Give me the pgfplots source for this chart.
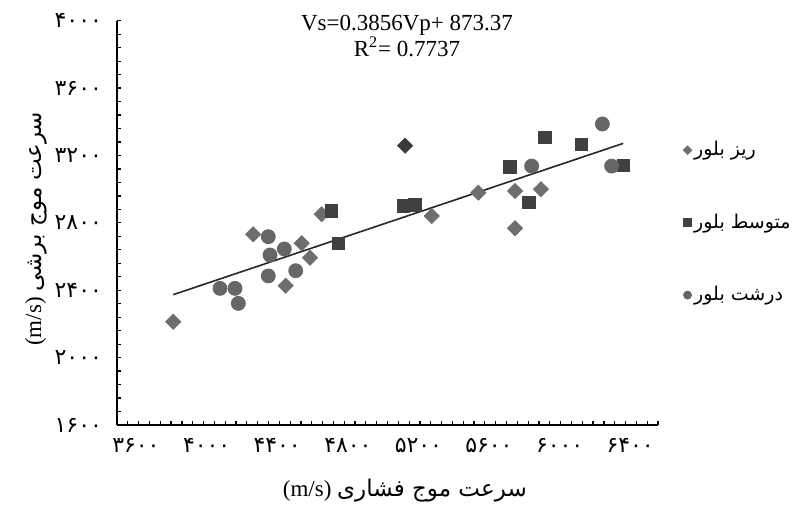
\documentclass[border=0pt]{standalone}
\usepackage{pgfplots}
\pgfplotsset{compat=1.18}
\usepackage{fontspec}
\setmainfont{Liberation Serif}
\newfontfamily\pfont[Script=Arabic]{DejaVu Sans}
\TeXXeTstate=1
\definecolor{cdia}{HTML}{6E6E6E}
\definecolor{cdiadark}{HTML}{3A3A3A}
\definecolor{csq}{HTML}{404040}
\definecolor{ccir}{HTML}{666666}
\begin{document}
\begin{tikzpicture}
\useasboundingbox (0,0) rectangle (399pt,-252pt);
\begin{axis}[
  at={(58.5pt,-10.35pt)}, anchor=north west,
  scale only axis, width=270.5pt, height=202.15pt,
  xmin=3600, xmax=6400, ymin=1600, ymax=4000,
  axis lines=left, axis line style={black, line width=0.9pt, -},
  tick align=inside,
  major tick length=2pt, minor tick length=2pt,
  tick style={black, line width=0.6pt},
  xtick={3698,4064,4429,4795,5160,5525,5891,6256},
  xticklabels={۳۶۰۰,۴۰۰۰,۴۴۰۰,۴۸۰۰,۵۲۰۰,۵۶۰۰,۶۰۰۰,۶۴۰۰},
  major x tick style={draw=none},
  minor xtick={3600,3656,...,6400},
  ytick={1600,2000,...,4000},
  yticklabels={۱۶۰۰,۲۰۰۰,۲۴۰۰,۲۸۰۰,۳۲۰۰,۳۶۰۰,۴۰۰۰},
  minor y tick num=4,
  xticklabel style={font=\pfont\fontsize{11}{12}\selectfont, yshift=-3pt},
  yticklabel style={font=\pfont\fontsize{11}{12}\selectfont, xshift=-4pt},
  xlabel={\fontsize{11.5}{12}\selectfont (m/s) {\pfont\beginR سرعت موج فشاری\endR}},
  ylabel={\fontsize{11.5}{12}\selectfont (m/s) {\pfont\beginR سرعت موج برشی\endR}},
  xlabel style={at={(axis description cs:0.532,-0.161)}, anchor=center},
  ylabel style={at={(axis description cs:-0.15,0.485)}, anchor=center},
  legend style={draw=none, fill=none, at={(1.035,0.722)}, anchor=north west,
    row sep=23.5pt, font=\pfont\fontsize{9.5}{11}\selectfont,
    nodes={inner xsep=1.2pt}},
  legend cell align=left,
  legend image code/.code={\draw[#1] plot coordinates {(0.15cm,0cm)};},
  clip=false,
]
\addlegendimage{only marks, mark=square*, mark size=1.5pt, mark options={rotate=45, fill=cdia, draw=cdia}}
\addlegendentry{\beginR ریز بلور\endR}
\addlegendimage{only marks, mark=square*, mark size=2pt, mark options={fill=csq, draw=csq}}
\addlegendentry{\beginR متوسط بلور\endR}
\addlegendimage{only marks, mark=*, mark size=2pt, mark options={fill=ccir, draw=ccir}}
\addlegendentry{\beginR درشت بلور\endR}
\addplot[only marks, mark=square*, mark size=2.65pt, mark options={rotate=45, fill=cdia, draw=cdia}, forget plot]
 coordinates {(3891,2213) (4305,2732) (4556,2679) (4599,2593) (4473,2427) (4659,2851)
 (5229,2841) (5470,2979) (5660,2989) (5794,3000) (5660,2768)};
\addplot[only marks, mark=square*, mark size=3.1pt, mark options={fill=csq, draw=csq}, forget plot]
 coordinates {(4711,2872) (4745,2679) (5082,2900) (5142,2906) (5634,3133) (5732,2920)
 (5815,3308) (6005,3266) (6220,3142)};
\addplot[only marks, mark=*, mark size=3.5pt, mark options={fill=ccir, draw=ccir}, forget plot]
 coordinates {(4133,2411) (4211,2411) (4228,2322) (4383,2718) (4392,2609) (4466,2645)
 (4383,2485) (4525,2516) (5746,3137) (6112,3387) (6160,3137)};
\addplot[only marks, mark=square*, mark size=2.65pt, mark options={rotate=45, fill=cdiadark, draw=cdiadark}, forget plot]
 coordinates {(5091,3258)};
\addplot[black!85, line width=0.8pt, forget plot] coordinates {(3891,2373.7) (6220,3271.8)};
\node[align=center, font=\fontsize{11.5}{11.5}\selectfont] at (axis description cs:0.536,0.962)
 {Vs=0.3856Vp+ 873.37\\R\textsuperscript{2}= 0.7737};
\end{axis}
\end{tikzpicture}
\end{document}
